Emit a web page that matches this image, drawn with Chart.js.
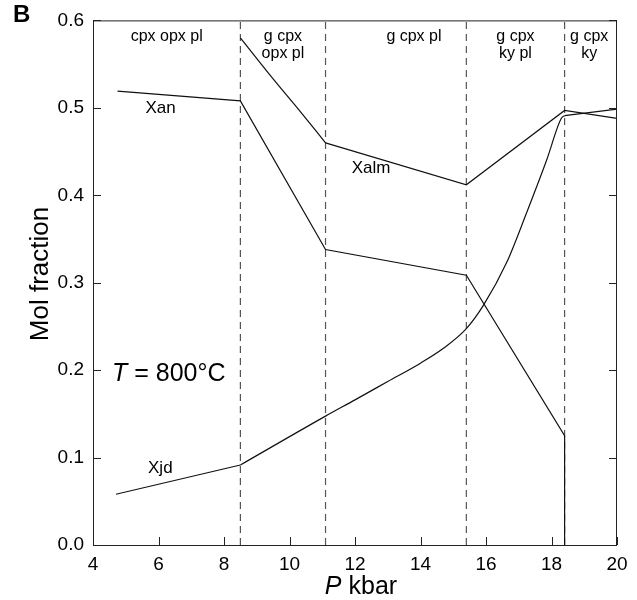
<!DOCTYPE html>
<html>
<head>
<meta charset="utf-8">
<script src="https://cdn.jsdelivr.net/npm/chart.js@4.4.1/dist/chart.umd.min.js"></script>
<style>
  html, body { margin: 0; padding: 0; background: #fff; }
  canvas { display: block; }
</style>
</head>
<body>
<canvas id="c" width="637" height="600"></canvas>
<script>
// ---- data ----
const xTicks = [4, 6, 8, 10, 12, 14, 16, 18, 20];          // P kbar
const yTicks = [0.0, 0.1, 0.2, 0.3, 0.4, 0.5, 0.6];        // Mol fraction

// field boundaries (P, kbar)
const boundaries = [8.5, 11.1, 15.4, 18.4];

// assemblage labels for each field
const fieldNames = [["cpx opx pl"], ["g cpx", "opx pl"], ["g cpx pl"], ["g cpx", "ky pl"], ["g cpx", "ky"]];
const fieldLabelP = [6.25, 9.8, 13.8, 16.9, 19.15];

// X anorthite (plagioclase)
const anP = [4.75, 8.5, 11.1, 15.4, 18.4, 18.4];
const anX = [0.519, 0.508, 0.338, 0.3085, 0.125, 0.0];

// X almandine (garnet)
const almP = [8.5, 9.5, 10.3, 11.1, 15.4, 18.4, 20.0];
const almX = [0.580, 0.533, 0.497, 0.460, 0.412, 0.497, 0.488];

// X jadeite (clinopyroxene)
const jdP = [4.7, 8.5, 11.1, 12.0, 13.0, 14.0, 14.7, 15.4, 15.92, 16.63, 17.24, 17.85, 18.3, 18.4, 20.0];
const jdX = [0.058, 0.0915, 0.1474, 0.166, 0.187, 0.208, 0.225, 0.2475, 0.274, 0.323, 0.380, 0.440, 0.488, 0.491, 0.4985];

const FONT = "'Liberation Sans', Arial, Helvetica, sans-serif";

const toPts = (xs, ys, i0, i1) => xs.slice(i0, i1 + 1).map((x, i) => ({ x: x, y: ys[i0 + i] }));

function line(label, data, smooth) {
  return {
    label: label, data: data, showLine: true, pointRadius: 0,
    borderColor: '#111', borderWidth: 1.2, fill: false,
    cubicInterpolationMode: smooth ? 'monotone' : 'default', tension: 0
  };
}

const datasets = [
  line('Xan', toPts(anP, anX, 0, anP.length - 1), false),
  line('Xalm', toPts(almP, almX, 0, 3), true),
  line('Xalm', toPts(almP, almX, 3, almP.length - 1), false),
  line('Xjd', toPts(jdP, jdX, 0, 1), false),
  line('Xjd', toPts(jdP, jdX, 1, 13), true),
  line('Xjd', toPts(jdP, jdX, 13, jdP.length - 1), false)
];
boundaries.forEach(b => {
  datasets.push({
    label: 'boundary ' + b,
    data: [{ x: b, y: yTicks[0] }, { x: b, y: yTicks[yTicks.length - 1] }],
    showLine: true, pointRadius: 0, borderColor: '#555', borderWidth: 1.2,
    borderDash: [7, 5], fill: false
  });
});

const annotatePlugin = {
  id: 'annotate',
  afterDraw(chart) {
    const ctx = chart.ctx;
    const a = chart.chartArea;
    const xs = chart.scales.x, ys = chart.scales.y;
    ctx.save();
    // frame
    ctx.strokeStyle = '#222';
    ctx.lineWidth = 1;
    ctx.strokeRect(a.left + 0.5, a.top + 0.5, a.right - a.left - 1, a.bottom - a.top);
    // inward ticks
    ctx.beginPath();
    xTicks.forEach(v => {
      const px = Math.round(xs.getPixelForValue(v)) + 0.5;
      ctx.moveTo(px, a.bottom); ctx.lineTo(px, a.bottom - 8);
    });
    yTicks.forEach(v => {
      const py = Math.round(ys.getPixelForValue(v)) + 0.5;
      ctx.moveTo(a.left, py); ctx.lineTo(a.left + 8, py);
      ctx.moveTo(a.right, py); ctx.lineTo(a.right - 8, py);
    });
    ctx.stroke();

    ctx.fillStyle = '#000';
    // field labels
    ctx.font = '16px ' + FONT;
    ctx.textAlign = 'center';
    ctx.textBaseline = 'alphabetic';
    fieldNames.forEach((lines, i) => {
      const px = xs.getPixelForValue(fieldLabelP[i]);
      lines.forEach((t, j) => ctx.fillText(t, px, a.top + 21 + j * 17));
    });
    // curve labels
    ctx.textAlign = 'left';
    ctx.font = '17px ' + FONT;
    ctx.fillText('Xan', xs.getPixelForValue(5.6), ys.getPixelForValue(0.494));
    ctx.fillText('Xalm', xs.getPixelForValue(11.9), ys.getPixelForValue(0.425));
    ctx.fillText('Xjd', xs.getPixelForValue(5.68), ys.getPixelForValue(0.082));

    // T = 800 °C
    let x0 = xs.getPixelForValue(4.58), y0 = ys.getPixelForValue(0.188);
    ctx.font = 'italic 25px ' + FONT;
    ctx.fillText('T', x0, y0);
    x0 += ctx.measureText('T').width;
    ctx.font = '25px ' + FONT;
    ctx.fillText(' = 800°C', x0, y0);

    // x title: P kbar
    ctx.font = 'italic 25px ' + FONT;
    const wP = ctx.measureText('P').width;
    ctx.font = '25px ' + FONT;
    const wK = ctx.measureText(' kbar').width;
    let tx = (a.left + a.right) / 2 - (wP + wK) / 2 + 6;
    ctx.font = 'italic 25px ' + FONT;
    ctx.fillText('P', tx, 594);
    ctx.font = '25px ' + FONT;
    ctx.fillText(' kbar', tx + wP, 594);

    // y title
    ctx.save();
    ctx.translate(48, 274);
    ctx.rotate(-Math.PI / 2);
    ctx.textAlign = 'center';
    ctx.font = '26px ' + FONT;
    ctx.fillText('Mol fraction', 0, 0);
    ctx.restore();

    // panel letter
    ctx.font = 'bold 24px ' + FONT;
    ctx.textAlign = 'left';
    ctx.fillText('B', 13, 22);
    ctx.restore();
  }
};

new Chart(document.getElementById('c'), {
  type: 'scatter',
  data: { datasets: datasets },
  options: {
    responsive: false,
    animation: false,
    devicePixelRatio: 1,
    layout: { padding: { top: 16, right: 20, left: 0, bottom: 0 } },
    plugins: { legend: { display: false }, tooltip: { enabled: false } },
    scales: {
      x: {
        type: 'linear', min: xTicks[0], max: xTicks[xTicks.length - 1],
        afterBuildTicks: s => { s.ticks = xTicks.map(v => ({ value: v })); },
        afterFit: s => { s.height = 55; },
        ticks: { font: { size: 19, family: FONT }, color: '#000', padding: 8, maxRotation: 0, autoSkip: false },
        grid: { drawOnChartArea: false, drawTicks: false },
        border: { display: false }
      },
      y: {
        type: 'linear', min: yTicks[0], max: yTicks[yTicks.length - 1],
        afterBuildTicks: s => { s.ticks = yTicks.map(v => ({ value: v })); },
        afterFit: s => { s.width = 93; },
        ticks: { font: { size: 19, family: FONT }, color: '#000', padding: 9,
                 callback: v => Number(v).toFixed(1) },
        grid: { drawOnChartArea: false, drawTicks: false },
        border: { display: false }
      }
    }
  },
  plugins: [annotatePlugin]
});
</script>
</body>
</html>
